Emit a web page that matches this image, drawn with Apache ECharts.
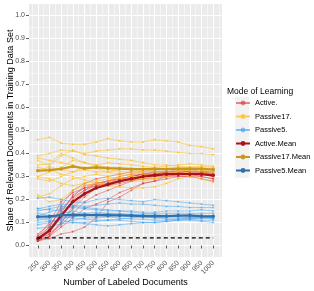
<!DOCTYPE html>
<html><head><meta charset="utf-8">
<script src="https://cdn.jsdelivr.net/npm/echarts@6/dist/echarts.min.js"></script>
<style>html,body{margin:0;padding:0;background:#fff}#c{width:314px;height:291px}</style>
</head><body><div id="c"></div>
<script>
// ---- data ----
const docs = [250,300,350,400,450,500,550,600,650,700,750,800,850,900,950,1000];
const xMinor = [225,275,325,375,425,475,525,575,625,675,725,775,825,875,925,975,1025];
const yMajor = [0,0.1,0.2,0.3,0.4,0.5,0.6,0.7,0.8,0.9,1.0];
const yMinor = [0.05,0.15,0.25,0.35,0.45,0.55,0.65,0.75,0.85,0.95];

const active1  = [0.03,0.08,0.17,0.24,0.27,0.29,0.30,0.31,0.32,0.32,0.32,0.32,0.33,0.32,0.32,0.31];
const active2  = [0.02,0.05,0.10,0.16,0.21,0.25,0.27,0.29,0.30,0.31,0.32,0.32,0.32,0.32,0.32,0.32];
const active3  = [0.04,0.10,0.19,0.23,0.25,0.26,0.27,0.28,0.29,0.30,0.31,0.31,0.31,0.31,0.31,0.30];
const active4  = [0.03,0.06,0.12,0.20,0.24,0.27,0.28,0.30,0.31,0.31,0.31,0.32,0.32,0.31,0.31,0.30];
const active5  = [0.02,0.04,0.08,0.12,0.16,0.18,0.20,0.23,0.25,0.27,0.28,0.30,0.31,0.31,0.31,0.31];
const active6  = [0.02,0.03,0.05,0.06,0.08,0.12,0.19,0.21,0.24,0.27,0.28,0.29,0.30,0.30,0.30,0.29];
const active7  = [0.05,0.09,0.15,0.21,0.26,0.27,0.28,0.29,0.30,0.31,0.31,0.31,0.31,0.31,0.31,0.31];
const active8  = [0.02,0.06,0.13,0.19,0.23,0.25,0.26,0.27,0.28,0.29,0.29,0.30,0.30,0.30,0.29,0.28];
const active9  = [0.03,0.07,0.14,0.22,0.25,0.27,0.28,0.29,0.30,0.31,0.31,0.31,0.32,0.32,0.32,0.32];
const active10 = [0.03,0.05,0.09,0.14,0.19,0.22,0.24,0.26,0.28,0.30,0.31,0.32,0.32,0.32,0.32,0.32];
const active11 = [0.04,0.08,0.16,0.21,0.24,0.26,0.27,0.28,0.29,0.30,0.30,0.30,0.31,0.31,0.30,0.29];
const active12 = [0.02,0.04,0.10,0.17,0.22,0.26,0.28,0.29,0.29,0.29,0.30,0.31,0.32,0.33,0.32,0.31];

const passive17_1  = [0.46,0.47,0.445,0.44,0.44,0.45,0.465,0.455,0.45,0.45,0.46,0.455,0.45,0.435,0.43,0.42];
const passive17_2  = [0.39,0.40,0.415,0.41,0.40,0.41,0.415,0.42,0.42,0.415,0.415,0.41,0.405,0.40,0.40,0.395];
const passive17_3  = [0.37,0.345,0.39,0.415,0.395,0.39,0.38,0.375,0.37,0.36,0.35,0.35,0.345,0.34,0.335,0.335];
const passive17_4  = [0.35,0.355,0.40,0.38,0.36,0.35,0.34,0.34,0.335,0.33,0.33,0.33,0.335,0.34,0.34,0.33];
const passive17_5  = [0.30,0.32,0.34,0.37,0.36,0.345,0.33,0.32,0.32,0.31,0.30,0.31,0.32,0.33,0.32,0.31];
const passive17_6  = [0.22,0.19,0.20,0.24,0.26,0.27,0.28,0.29,0.30,0.30,0.305,0.31,0.32,0.33,0.33,0.32];
const passive17_7  = [0.21,0.225,0.26,0.29,0.30,0.31,0.30,0.29,0.28,0.28,0.29,0.30,0.31,0.32,0.325,0.32];
const passive17_8  = [0.34,0.33,0.31,0.30,0.285,0.27,0.26,0.255,0.25,0.25,0.255,0.27,0.29,0.30,0.29,0.275];
const passive17_9  = [0.33,0.34,0.33,0.32,0.33,0.35,0.36,0.355,0.35,0.345,0.34,0.345,0.35,0.355,0.35,0.345];
const passive17_10 = [0.30,0.29,0.27,0.26,0.27,0.28,0.29,0.30,0.31,0.32,0.33,0.335,0.34,0.34,0.345,0.34];
const passive17_11 = [0.38,0.37,0.36,0.35,0.33,0.32,0.32,0.33,0.33,0.325,0.32,0.32,0.325,0.33,0.33,0.33];
const passive17_12 = [0.29,0.28,0.30,0.32,0.34,0.335,0.32,0.31,0.30,0.29,0.29,0.30,0.31,0.31,0.31,0.30];

const passive5_1  = [0.205,0.21,0.20,0.19,0.185,0.20,0.205,0.20,0.195,0.19,0.20,0.195,0.19,0.185,0.18,0.175];
const passive5_2  = [0.16,0.17,0.18,0.175,0.17,0.175,0.18,0.185,0.18,0.18,0.175,0.17,0.17,0.165,0.165,0.165];
const passive5_3  = [0.15,0.16,0.17,0.165,0.16,0.155,0.15,0.15,0.15,0.145,0.145,0.15,0.15,0.15,0.155,0.15];
const passive5_4  = [0.14,0.13,0.12,0.13,0.14,0.145,0.14,0.14,0.135,0.135,0.14,0.14,0.14,0.14,0.14,0.14];
const passive5_5  = [0.125,0.12,0.14,0.15,0.14,0.13,0.13,0.13,0.125,0.125,0.12,0.125,0.13,0.135,0.13,0.13];
const passive5_6  = [0.11,0.12,0.125,0.12,0.115,0.11,0.11,0.115,0.12,0.125,0.13,0.13,0.125,0.12,0.12,0.125];
const passive5_7  = [0.10,0.105,0.11,0.10,0.10,0.105,0.11,0.11,0.105,0.10,0.10,0.105,0.11,0.115,0.11,0.11];
const passive5_8  = [0.075,0.08,0.095,0.10,0.095,0.09,0.085,0.09,0.095,0.10,0.10,0.105,0.11,0.11,0.105,0.10];
const passive5_9  = [0.13,0.145,0.16,0.17,0.165,0.16,0.155,0.15,0.145,0.14,0.135,0.13,0.13,0.13,0.125,0.12];
const passive5_10 = [0.12,0.11,0.10,0.11,0.12,0.12,0.125,0.13,0.135,0.13,0.125,0.12,0.12,0.12,0.125,0.12];
const passive5_11 = [0.09,0.10,0.115,0.125,0.13,0.135,0.14,0.135,0.13,0.125,0.12,0.115,0.115,0.12,0.12,0.115];
const passive5_12 = [0.16,0.155,0.15,0.14,0.135,0.13,0.125,0.12,0.115,0.115,0.11,0.11,0.115,0.115,0.12,0.12];

const activeMean    = [0.03,0.065,0.13,0.19,0.225,0.25,0.265,0.28,0.29,0.30,0.305,0.31,0.31,0.31,0.31,0.305];
const passive17Mean = [0.325,0.328,0.333,0.344,0.335,0.34,0.336,0.334,0.332,0.332,0.333,0.332,0.333,0.333,0.333,0.330];
const passive5Mean  = [0.125,0.127,0.132,0.133,0.132,0.133,0.132,0.131,0.13,0.128,0.128,0.128,0.13,0.13,0.128,0.127];
const baseline      = [0.033,0.033,0.033,0.033,0.033,0.033,0.033,0.033,0.033,0.033,0.033,0.033,0.033,0.033,0.033,0.033];

const activeRuns    = [active1,active2,active3,active4,active5,active6,active7,active8,active9,active10,active11,active12];
const passive17Runs = [passive17_1,passive17_2,passive17_3,passive17_4,passive17_5,passive17_6,passive17_7,passive17_8,passive17_9,passive17_10,passive17_11,passive17_12];
const passive5Runs  = [passive5_1,passive5_2,passive5_3,passive5_4,passive5_5,passive5_6,passive5_7,passive5_8,passive5_9,passive5_10,passive5_11,passive5_12];

// ---- chart ----
const FONT = 'Liberation Sans, Arial, sans-serif';
const pairs = arr => arr.map((v,i) => [docs[i], v]);
const series = [];
function addRuns(runs, name, color, op) {
  runs.forEach(r => series.push({
    type:'line', name, data: pairs(r), symbol:'circle', symbolSize:2.2,
    lineStyle:{color, width:0.8, opacity:op}, itemStyle:{color, opacity:op},
    silent:true, z:2
  }));
}
addRuns(activeRuns, 'Active.', '#D93A40', 0.6);
addRuns(passive17Runs, 'Passive17.', '#FFBE1E', 0.7);
addRuns(passive5Runs, 'Passive5.', '#3DA1EE', 0.6);
function addMean(arr, name, color) {
  series.push({type:'line', name, data: pairs(arr), symbol:'circle', symbolSize:3.5,
    lineStyle:{color, width:2.2}, itemStyle:{color}, z:3});
}
addMean(activeMean, 'Active.Mean', '#A8141B');
addMean(passive17Mean, 'Passive17.Mean', '#C9961F');
addMean(passive5Mean, 'Passive5.Mean', '#336FA8');
series.push({type:'line', name:'baseline', data: pairs(baseline), symbol:'none',
  lineStyle:{color:'#000', width:1.1, type:[4,3]}, z:4});

const tickFont = {color:'#4D4D4D', fontSize:7, fontFamily:FONT};
const chart = echarts.init(document.getElementById('c'), null, {renderer:'canvas'});
chart.setOption({
  animation:false,
  grid:{left:29, right:92, top:4, bottom:34, show:true, backgroundColor:'#EBEBEB', borderWidth:0, outerBoundsMode:'none'},
  title:{text:'Mode of Learning', left:222, top:82, textStyle:{fontSize:8.5, fontWeight:'normal', color:'#000', fontFamily:FONT}},
  graphic:[{type:'rect', left:235, top:97, shape:{width:14, height:81}, style:{fill:'#F2F2F2'}, z:-1}],
  legend:{orient:'vertical', left:235, top:98, itemWidth:14, itemHeight:6, itemGap:3.5,
    data:['Active.','Passive17.','Passive5.','Active.Mean','Passive17.Mean','Passive5.Mean'],
    textStyle:{fontSize:7.5, lineHeight:10, color:'#000', fontFamily:FONT}, padding:0},
  xAxis:[
    {type:'value', min:212.5, max:1037.5, name:'Number of Labeled Documents', nameLocation:'middle', nameGap:21, nameMoveOverlap:false,
      nameTextStyle:{fontSize:9, color:'#000', fontFamily:FONT},
      axisLine:{show:false}, axisTick:{show:true, length:3, customValues:docs, lineStyle:{color:'#333', width:0.8}},
      axisLabel:{rotate:45, margin:5, customValues:docs, formatter: v => String(v), ...tickFont},
      splitLine:{show:true, lineStyle:{color:'#FFFFFF', width:1}}},
    {type:'value', min:212.5, max:1037.5, axisLine:{show:false}, axisLabel:{show:false},
      axisTick:{show:false, customValues:xMinor},
      splitLine:{show:true, lineStyle:{color:'#FFFFFF', width:0.5}}}
  ],
  yAxis:[
    {type:'value', min:-0.05, max:1.05, name:'Share of Relevant Documents in Training Data Set', nameLocation:'middle', nameGap:14, nameMoveOverlap:false,
      nameTextStyle:{fontSize:9, color:'#000', fontFamily:FONT},
      axisLine:{show:false}, axisTick:{show:true, length:3, customValues:yMajor, lineStyle:{color:'#333', width:0.8}},
      axisLabel:{margin:4, customValues:yMajor, formatter: v => v.toFixed(1), ...tickFont},
      splitLine:{show:true, lineStyle:{color:'#FFFFFF', width:1}}},
    {type:'value', min:-0.05, max:1.05, axisLine:{show:false}, axisLabel:{show:false},
      axisTick:{show:false, customValues:yMinor},
      splitLine:{show:true, lineStyle:{color:'#FFFFFF', width:0.5}}}
  ],
  series
});
</script></body></html>
